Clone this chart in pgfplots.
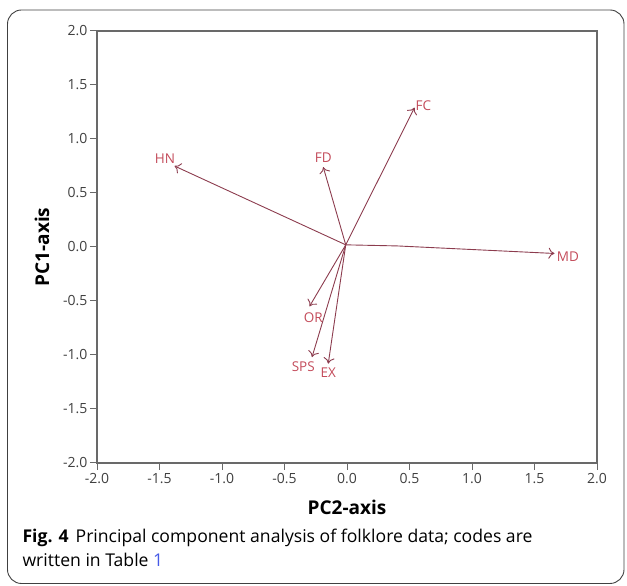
\documentclass[border=0pt]{standalone}
\usepackage{fontspec}
\setmainfont{Open Sans}
\usepackage{pgfplots}
\pgfplotsset{compat=1.18}
\usetikzlibrary{arrows.meta}
\definecolor{veccol}{RGB}{140,60,78}
\definecolor{veclab}{RGB}{195,75,90}
\definecolor{axgray}{RGB}{105,105,105}
\definecolor{linkblue}{RGB}{70,90,230}
\begin{document}
\begin{tikzpicture}[x=1pt,y=1pt,
  vecarrow/.style={veccol, line width=0.9pt, -{To[length=6pt,width=11pt]}},
  lab/.style={text=veclab, font=\fontsize{13.5}{15}\selectfont, inner sep=1pt}]
\useasboundingbox (0,0) rectangle (627,586);
\draw[black!75, line width=0.9pt, rounded corners=14pt] (7.5,2.5) rectangle (624,576);
\begin{axis}[
  at={(97pt,123pt)}, anchor=south west,
  scale only axis, width=500pt, height=432pt,
  xmin=-2, xmax=2, ymin=-2, ymax=2,
  xtick={-2,-1.5,...,2}, ytick={-2,-1.5,...,2},
  tick pos=left, tick align=outside, major tick length=7pt,
  axis line style={axgray, line width=1.6pt},
  tick style={axgray, line width=1pt},
  ticklabel style={font=\fontsize{14}{16}\selectfont, text=black!75},
  yticklabel style={xshift=1pt},
  /pgf/number format/.cd, fixed, fixed zerofill, precision=1, assume math mode=true,
  /pgfplots/.cd,
  xlabel={PC2-axis}, ylabel={PC1-axis},
  label style={font=\fontsize{19}{22}\selectfont\bfseries},
  xlabel style={at={(axis description cs:0.5,-0.102)}, anchor=center},
  ylabel style={at={(axis description cs:-0.11,0.5)}, anchor=center},
  clip=false
]
% loading vectors from the origin
\addplot[vecarrow] coordinates {(-0.01,0.02) (-1.38,0.75)};
\addplot[vecarrow] coordinates {(-0.01,0.02) (-0.19,0.74)};
\addplot[vecarrow] coordinates {(-0.01,0.02) (0.54,1.29)};
\addplot[vecarrow] coordinates {(-0.01,0.02) (0.40,0.01) (1.66,-0.06)};
\addplot[vecarrow] coordinates {(-0.01,0.02) (-0.30,-0.55)};
\addplot[vecarrow] coordinates {(-0.01,0.02) (-0.28,-1.02)};
\addplot[vecarrow] coordinates {(-0.01,0.02) (-0.15,-1.08)};
\node[lab] at (axis cs:-1.456,0.815) {HN};
\node[lab] at (axis cs:-0.19,0.83) {FD};
\node[lab,anchor=west] at (axis cs:0.54,1.305) {FC};
\node[lab,anchor=west] at (axis cs:1.67,-0.09) {MD};
\node[lab] at (axis cs:-0.27,-0.65) {OR};
\node[lab] at (axis cs:-0.35,-1.11) {SPS};
\node[lab] at (axis cs:-0.15,-1.16) {EX};
\end{axis}
\node[anchor=base west, font=\fontsize{17.6}{20}\selectfont] at (19,586-543)
  {\textbf{Fig. 4}\hspace{7pt}Principal component analysis of folklore data; codes are};
\node[anchor=base west, font=\fontsize{17.6}{20}\selectfont] at (19,586-567)
  {written in Table \textcolor{linkblue}{1}};
\end{tikzpicture}
\end{document}
